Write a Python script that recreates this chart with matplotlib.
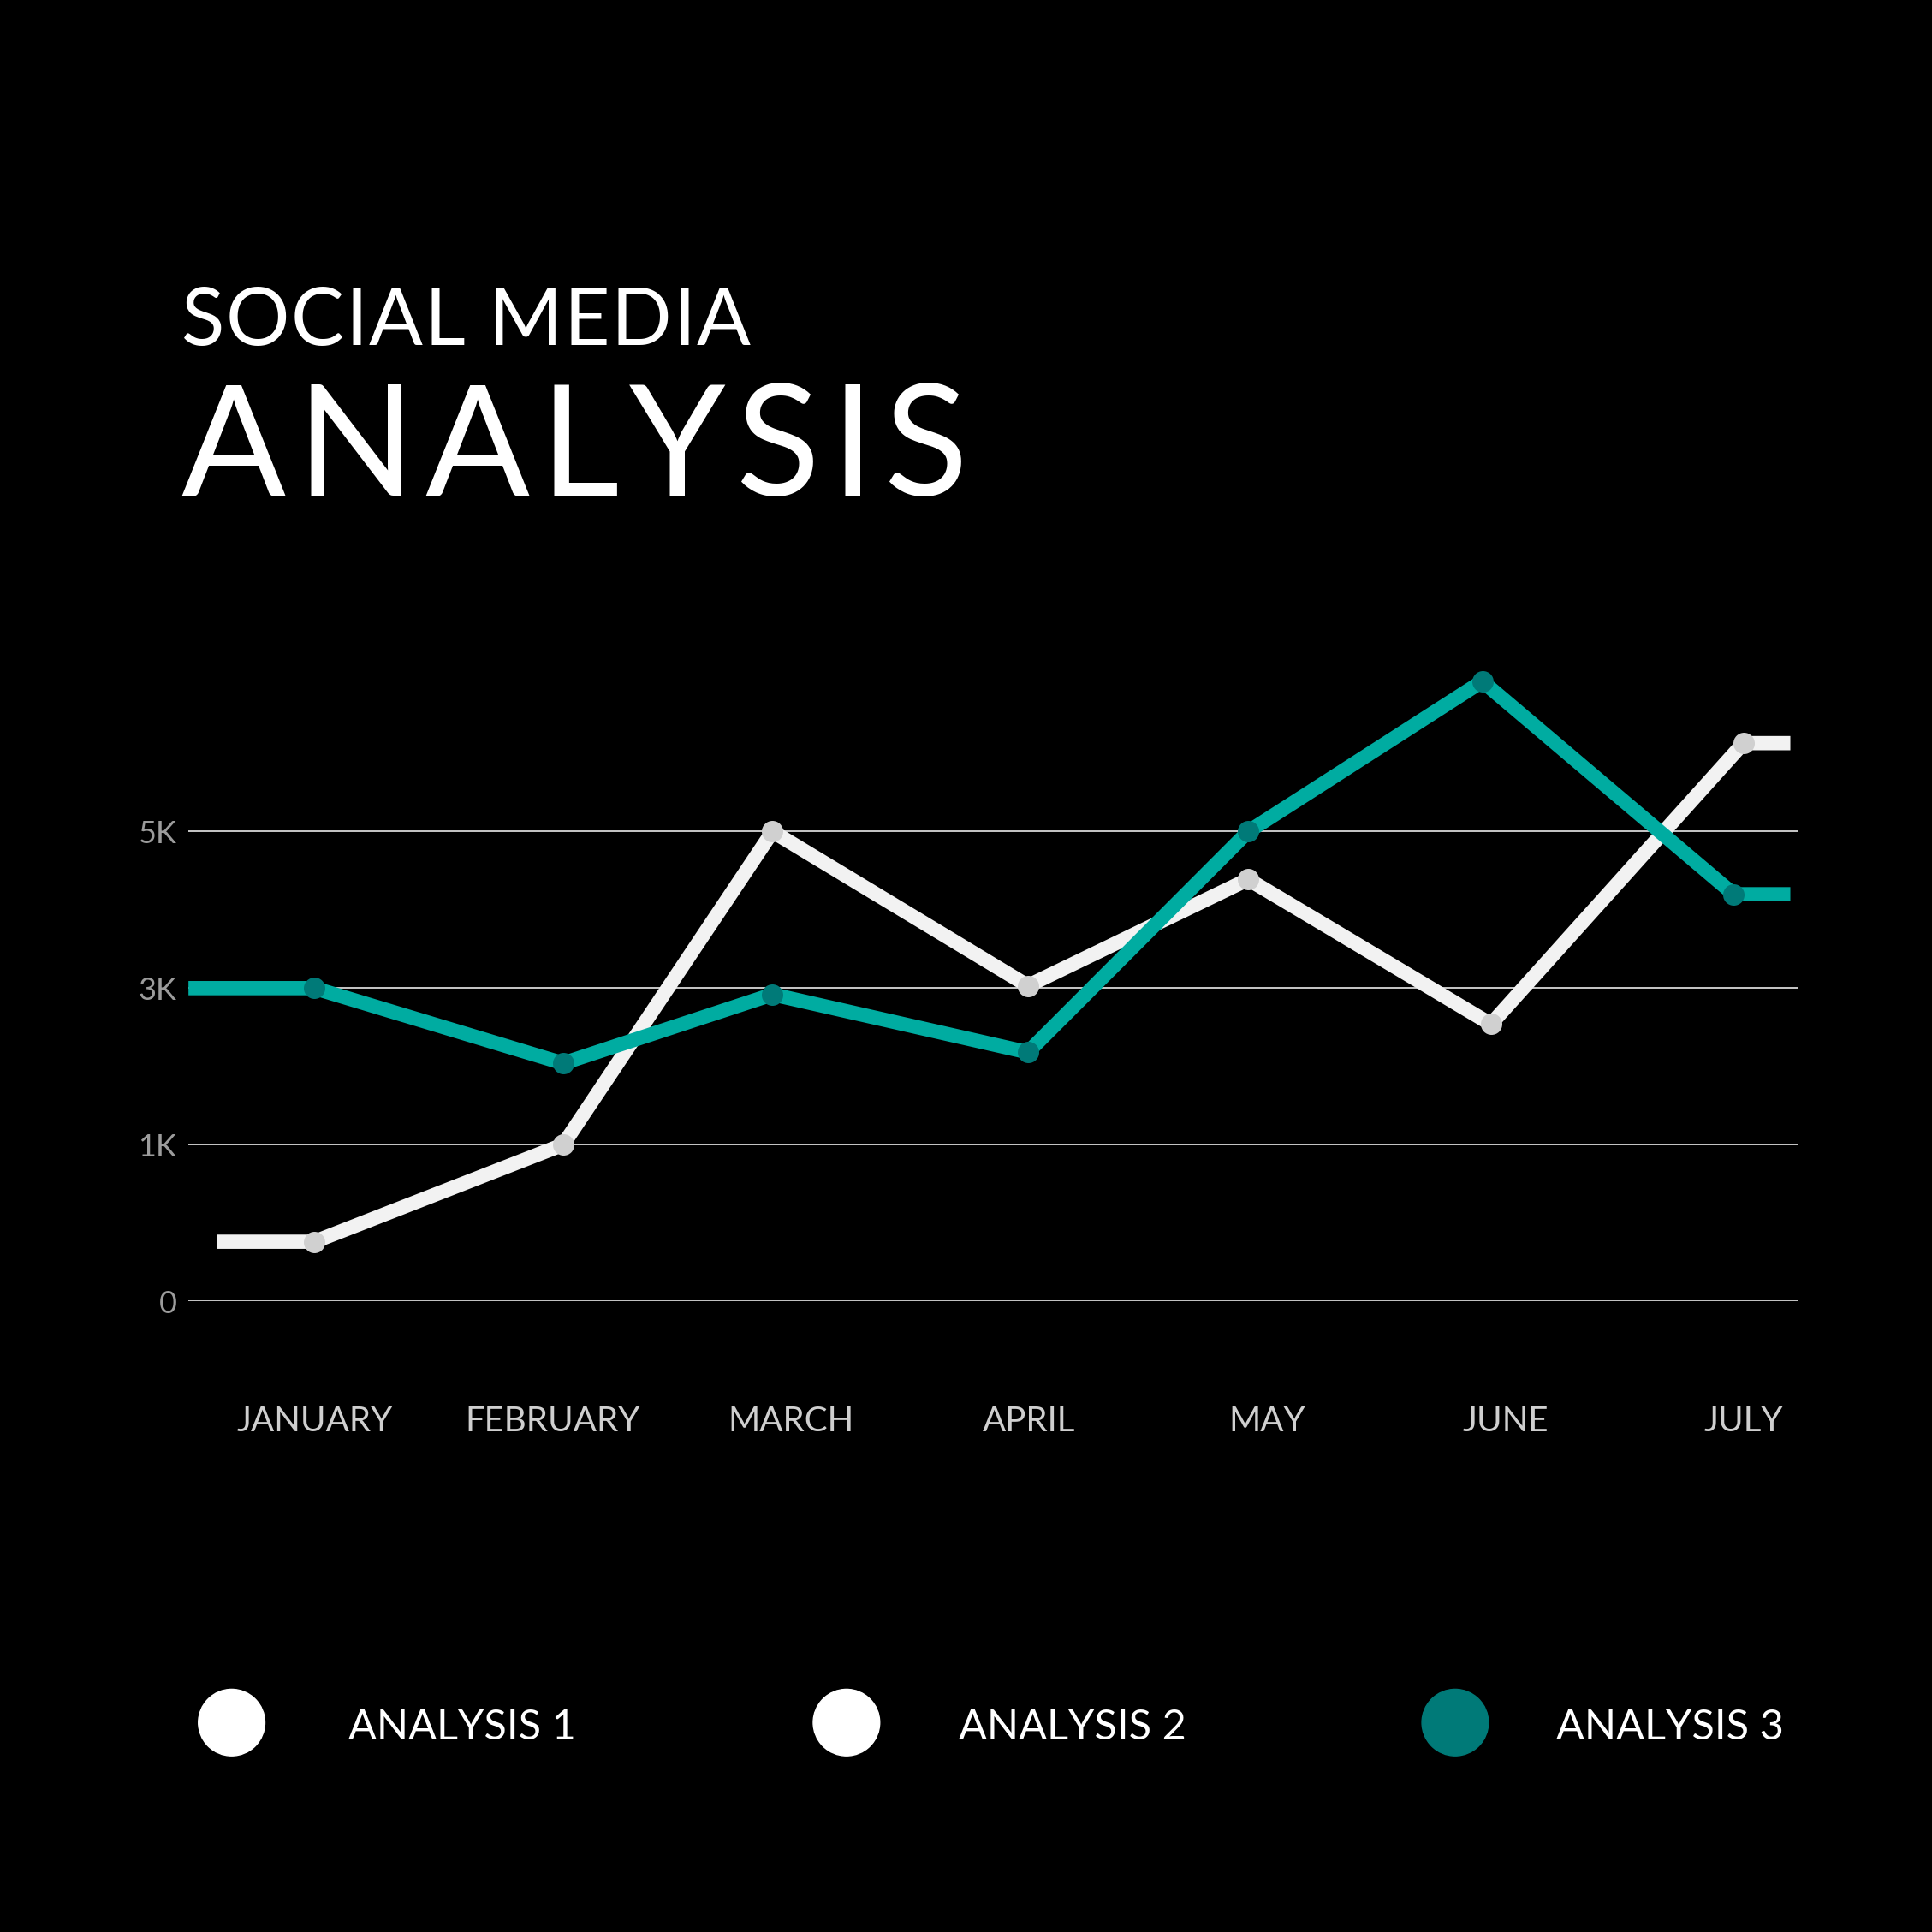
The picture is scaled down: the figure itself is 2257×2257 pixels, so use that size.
import numpy as np
import matplotlib.pyplot as plt
from matplotlib.patches import Circle

### DATA
months = ["JANUARY", "FEBRUARY", "MARCH", "APRIL", "MAY", "JUNE", "JULY"]
y_ticks = [0, 1000, 3000, 5000]
y_tick_labels = ["0", "1K", "3K", "5K"]

# x positions of the points in month units (points sit a bit off the labels)
white_x = [0, 1.045, 1.924, 2.996, 3.921, 4.940, 6.0]
white_y = [380, 1000, 5000, 3030, 4390, 2540, 6130]
teal_x = [0, 1.045, 1.924, 2.996, 3.921, 4.904, 5.959]
teal_y = [3000, 2040, 2920, 2180, 5000, 6920, 4200]

legend_labels = ["ANALYSIS 1", "ANALYSIS 2", "ANALYSIS 3"]
legend_colors = ["#ffffff", "#ffffff", "#007a78"]

### STYLE
BG = "#000000"
WHITE_LINE = "#f2f2f2"
WHITE_DOT = "#d0d0d0"
TEAL_LINE = "#00aca1"
TEAL_DOT = "#007a78"
FONT = ["Lato", "DejaVu Sans"]

# gridlines are evenly spaced although the values are not -> piecewise scale
knots = [0, 1000, 3000, 5000, 7000, 9000]
slots = [0, 1, 2, 3, 4, 5]
def fwd(v):
    return np.interp(v, knots, slots)
def inv(u):
    return np.interp(u, slots, knots)

def tracked_text(fig, x, y, s, spacing, **kw):
    # draw text letter by letter with extra spacing (fraction of figure width)
    r = fig.canvas.get_renderer()
    W = fig.get_figwidth() * fig.dpi
    for ch in s:
        t = fig.text(x, y, ch, **kw)
        w = t.get_window_extent(renderer=r).width / W
        x += w + spacing

fig = plt.figure(figsize=(22.57, 22.57), dpi=100, facecolor=BG)
ax = fig.add_axes([0.0976, 0.3265, 0.8329, 0.3292], facecolor=BG)
ax.set_yscale("function", functions=(fwd, inv))
ax.set_xlim(-0.5276, 6.228)
ax.set_ylim(0, 7126)

# flat lead-in / lead-out stubs like the original design
wx = [-0.409] + white_x + [6.197]
wy = [white_y[0]] + white_y + [white_y[-1]]
tx = [-0.528] + teal_x + [6.197]
ty = [teal_y[0]] + teal_y + [teal_y[-1]]

ax.plot(wx, wy, color=WHITE_LINE, lw=12, solid_capstyle="butt", zorder=3)
ax.plot(white_x, white_y, "o", color=WHITE_DOT, ms=18, mew=0, zorder=4)
ax.plot(tx, ty, color=TEAL_LINE, lw=12, solid_capstyle="butt", zorder=5)
ax.plot(teal_x, teal_y, "o", color=TEAL_DOT, ms=18, mew=0, zorder=6)

ax.set_yticks(y_ticks)
ax.set_yticklabels(y_tick_labels, family=FONT, fontsize=26, color="#9c9c9c")
ax.set_xticks(range(len(months)))
ax.set_xticklabels(months, family=FONT, fontsize=29, color="#cfcfcf")
ax.tick_params(axis="y", length=0, pad=10)
ax.tick_params(axis="x", length=0, pad=88)
ax.yaxis.grid(True, color="#c8c8c8", lw=1.4)
ax.set_axisbelow(True)
for s in ax.spines.values():
    s.set_visible(False)

# title
tracked_text(fig, 0.0938, 0.8214, "SOCIAL MEDIA", 0.0007, family=FONT, fontsize=67,
             color="white", va="baseline")
tracked_text(fig, 0.0938, 0.7436, "ANALYSIS", 0.0054, family=FONT, fontsize=130,
             color="white", va="baseline")

# legend
circle_x = [188 / 1568, 687 / 1568, 1181 / 1568]
text_x = [283 / 1568, 778 / 1568, 1263 / 1568]
ly = 1 - 1398 / 1568
for cx, tx_, lab, col in zip(circle_x, text_x, legend_labels, legend_colors):
    fig.add_artist(Circle((cx, ly), 27 / 1568, color=col, transform=fig.transFigure))
    fig.text(tx_, ly - 4 / 1568, lab, family=FONT, fontsize=35, color="white", va="center")

fig.savefig("out.png", dpi=100, facecolor=BG)
